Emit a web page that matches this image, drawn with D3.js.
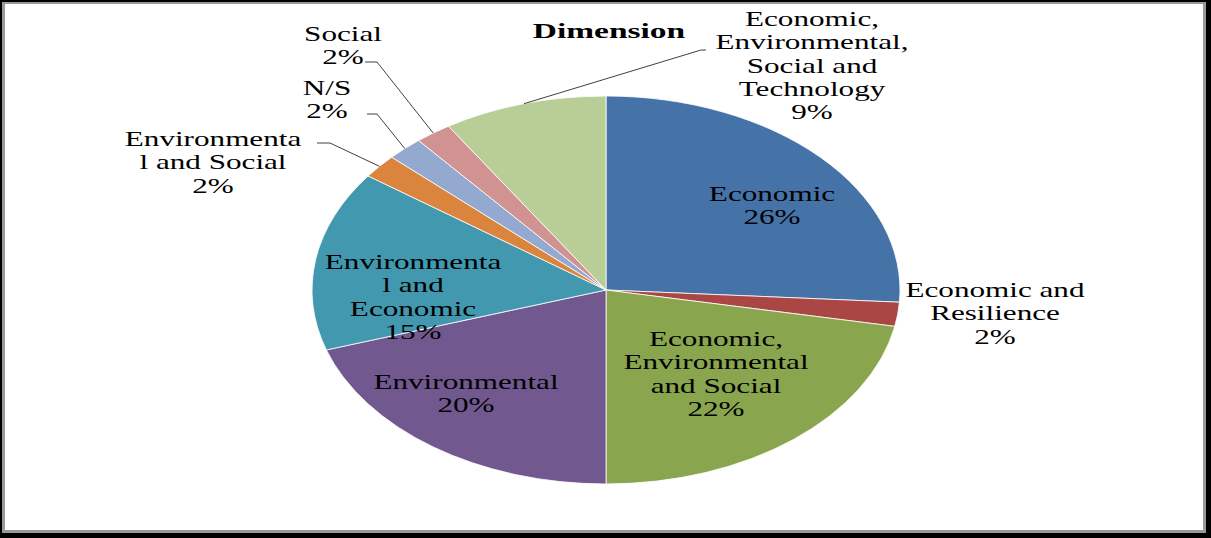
<!DOCTYPE html>
<html>
<head>
<meta charset="utf-8">
<script src="https://cdn.jsdelivr.net/npm/d3@7"></script>
<style>
  html, body { margin: 0; padding: 0; background: #fff; }
  svg { display: block; }
  text { font-family: "Liberation Serif", "Times New Roman", serif; fill: #000; }
</style>
</head>
<body>
<div id="container"></div>
<script>
const WIDTH = 1211;
const HEIGHT = 538;

// data
const categories = [
  'Economic',
  'Economic and Resilience',
  'Economic, Environmental and Social',
  'Environmental',
  'Environmental and Economic',
  'Environmental and Social',
  'N/S',
  'Social',
  'Economic, Environmental, Social and Technology'
];
const shares = [26, 2, 22, 20, 15, 2, 2, 2, 9];
const title = 'Dimension';

// styles
const colors = ['#4572A7', '#AA4643', '#89A54E', '#71588F', '#4198AF',
                '#DB843D', '#93A9CF', '#D19392', '#B9CD96'];

// how Excel wrapped the labels
const labelWrap = [
  ['Economic'],
  ['Economic and', 'Resilience'],
  ['Economic,', 'Environmental', 'and Social'],
  ['Environmental'],
  ['Environmenta', 'l and', 'Economic'],
  ['Environmenta', 'l and Social'],
  ['N/S'],
  ['Social'],
  ['Economic,', 'Environmental,', 'Social and', 'Technology']
];

// label placement: centre x, first baseline y
const labelPos = [
  [772, 201], [995, 297], [716, 346], [466, 389], [413, 269],
  [213, 146], [327, 95], [343, 41], [812, 26]
];
// leader lines: [start, elbow] or null
const leaders = [
  null, null, null, null, null,
  [[317, 143], [330, 143]],
  [[367, 114], [377, 114]],
  [[365, 62], [377, 62]],
  [[706, 50], [701, 50]]
];

const CX = 606, CY = 290;
const R = 194;
const SX = 294 / R;      // the picture is stretched sideways
const TX = 1.52;         // text stretch
const LINE = 23.3;

const svg = d3.select('#container')
  .append('svg')
    .attr('width', WIDTH)
    .attr('height', HEIGHT);

// frame
svg.append('rect').attr('width', WIDTH).attr('height', HEIGHT).attr('fill', '#000');
svg.append('rect').attr('x', 2).attr('y', 2)
   .attr('width', 1204).attr('height', 531).attr('fill', '#9a9a9a');
svg.append('rect').attr('x', 5).attr('y', 4)
   .attr('width', 1198).attr('height', 526).attr('fill', '#fff');

const pie = d3.pie().sort(null).value(d => d);
const arcs = pie(shares);

const arc = d3.arc().innerRadius(0).outerRadius(R);
const edge = d3.arc().innerRadius(R).outerRadius(R);

const pieG = svg.append('g')
  .attr('transform', `translate(${CX}, ${CY}) scale(${SX}, 1)`);

pieG.selectAll('path')
    .data(arcs)
    .enter()
    .append('path')
    .attr('d', arc)
    .attr('fill', (d, i) => colors[i])
    .attr('stroke', '#fff')
    .attr('stroke-width', 0.8)
    .attr('vector-effect', 'non-scaling-stroke');

// leader lines
svg.selectAll('.leader')
   .data(arcs.filter((d, i) => leaders[i]))
   .enter()
   .append('polyline')
   .attr('class', 'leader')
   .attr('fill', 'none')
   .attr('stroke', '#404040')
   .attr('stroke-width', 1)
   .attr('points', d => {
       const [start, elbow] = leaders[d.index];
       const [ex, ey] = edge.centroid(d);
       return [start, elbow, [CX + ex * SX, CY + ey]].map(p => p.join(',')).join(' ');
   });

// labels
const labels = svg.selectAll('.label')
  .data(arcs)
  .enter()
  .append('text')
  .attr('class', 'label')
  .attr('text-anchor', 'middle')
  .style('font-size', '20.5px')
  .attr('transform', (d, i) => `translate(${labelPos[i][0]}, ${labelPos[i][1]}) scale(${TX}, 1)`);

labels.selectAll('tspan')
  .data((d, i) => labelWrap[i].concat([`${shares[i]}%`]))
  .enter()
  .append('tspan')
  .attr('x', 0)
  .attr('y', (t, j) => j * LINE)
  .text(t => t);

svg.append('text')
   .attr('text-anchor', 'middle')
   .attr('transform', `translate(609, 38) scale(${TX}, 1)`)
   .style('font-size', '22px')
   .style('font-weight', 'bold')
   .text(title);
</script>
</body>
</html>
